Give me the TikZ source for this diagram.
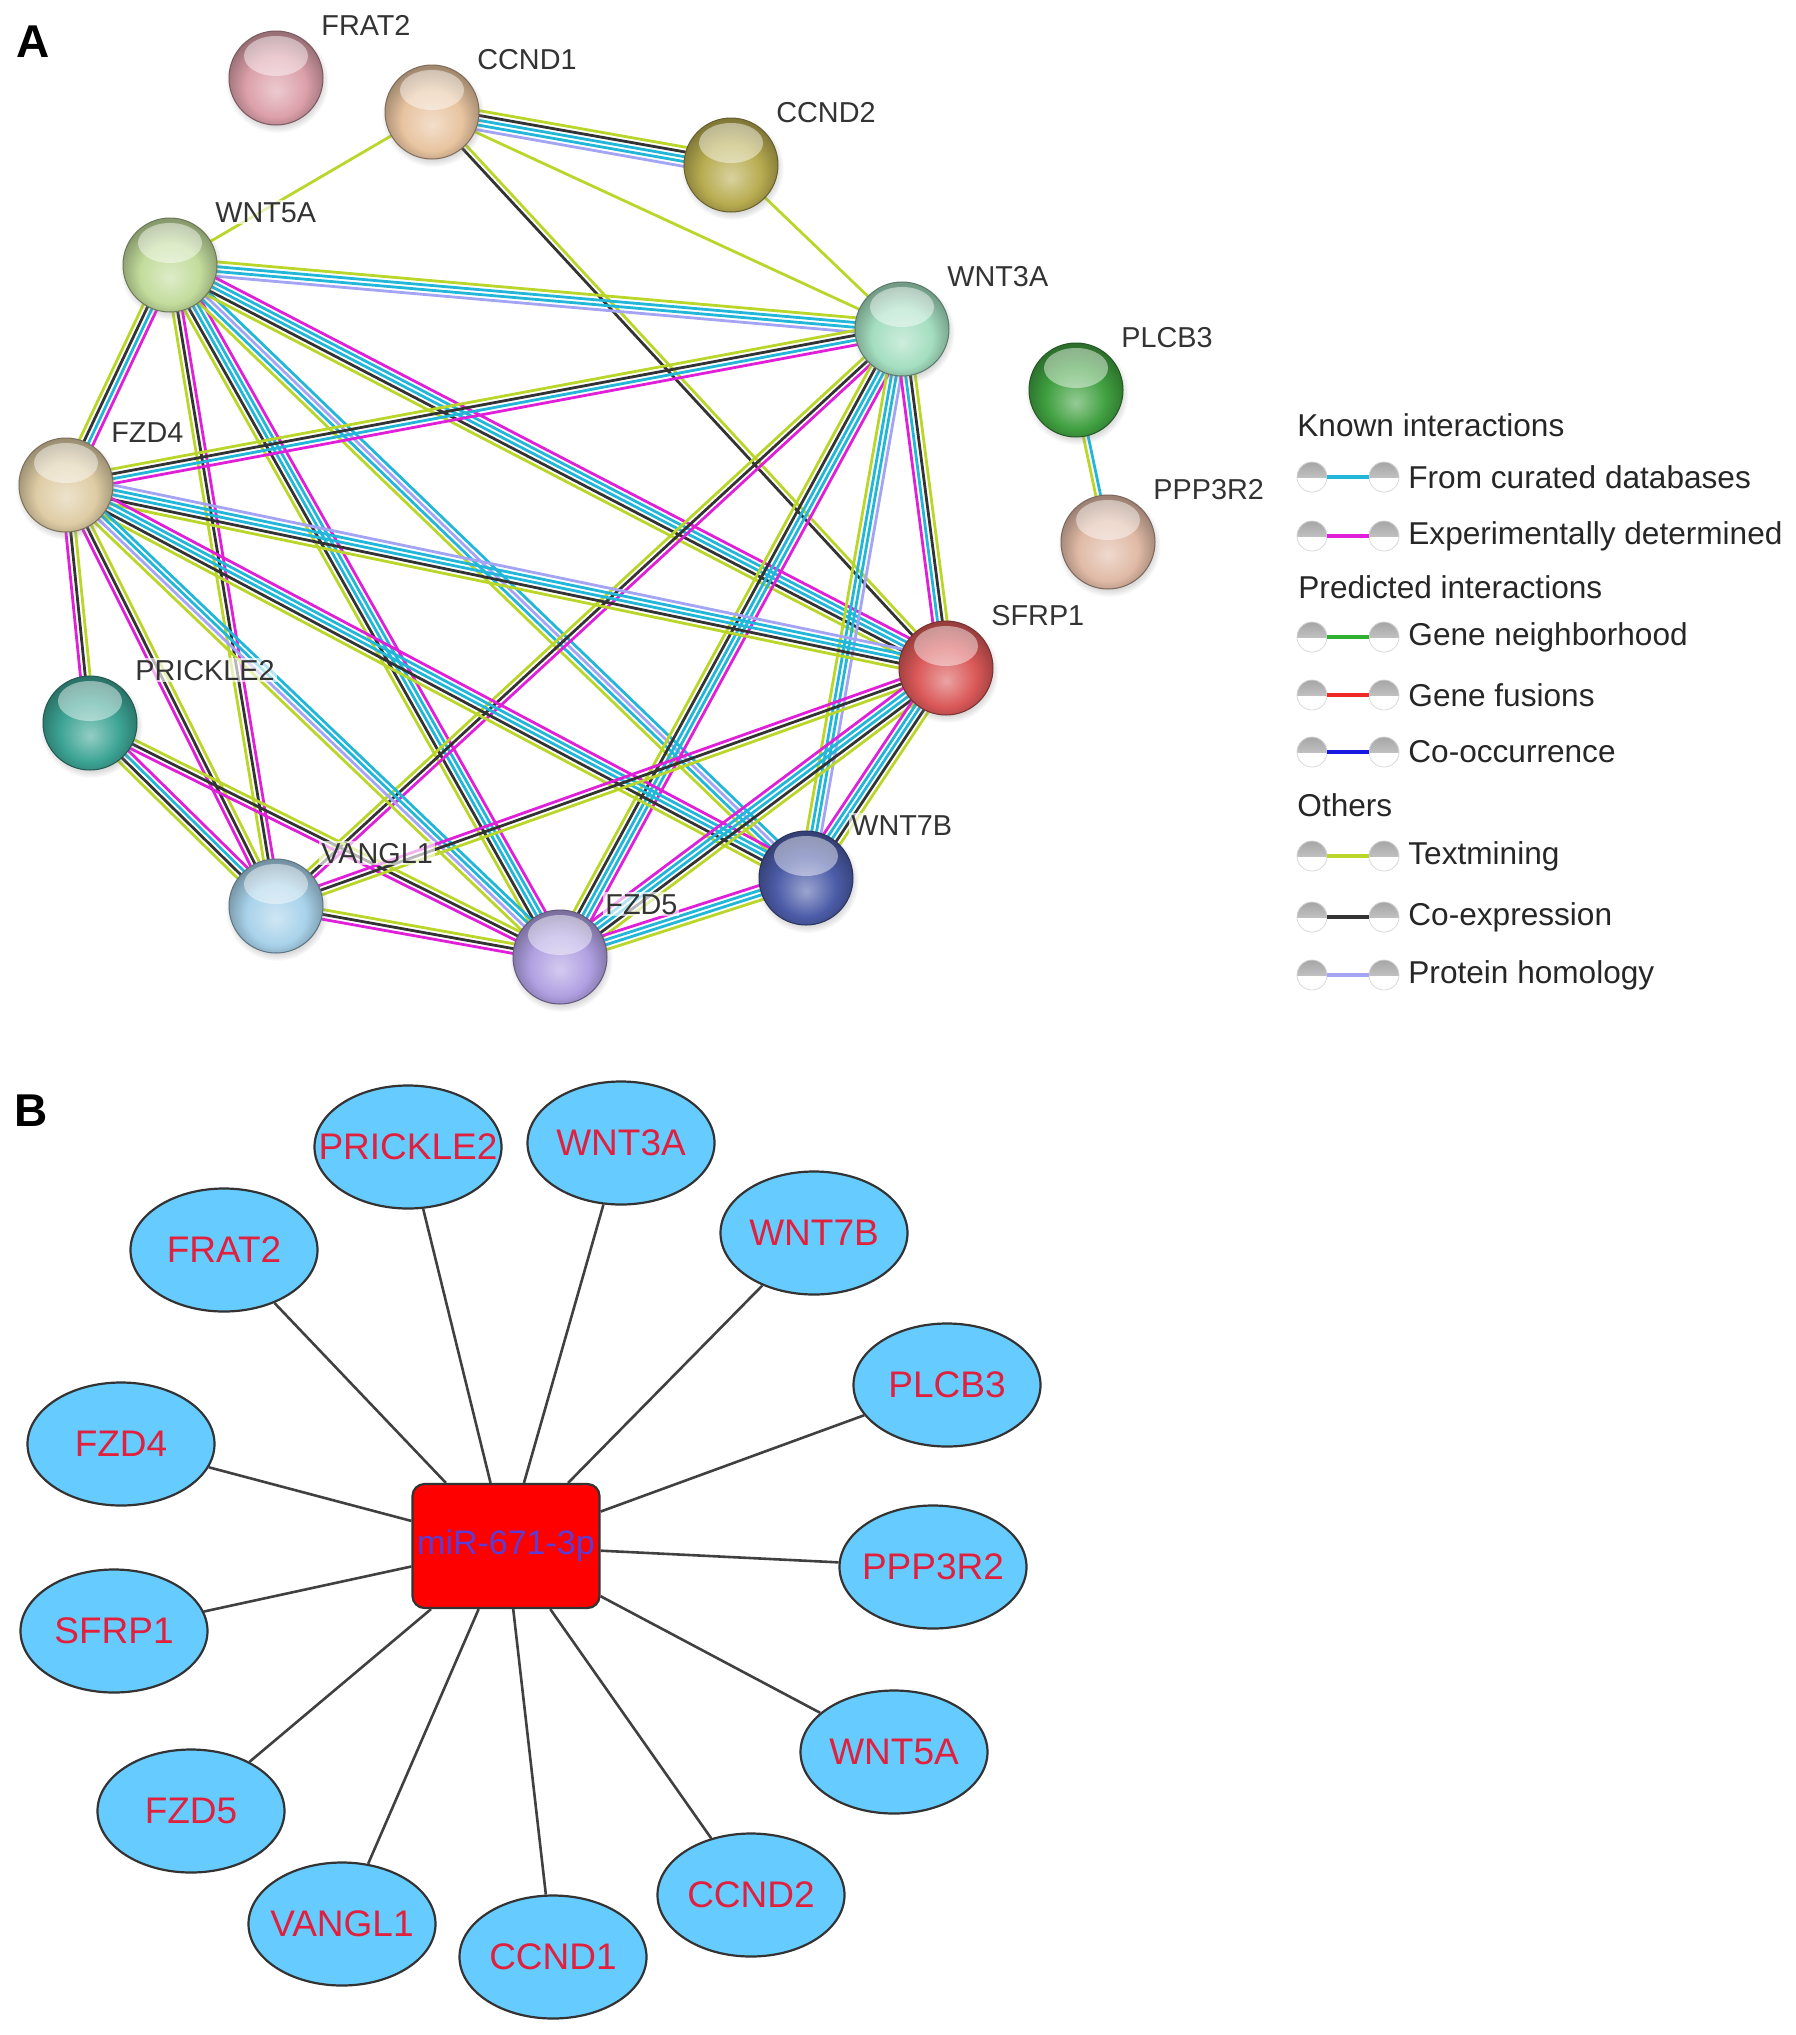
\documentclass[tikz,border=0pt]{standalone}
\usepackage{fontspec}
\setmainfont{Liberation Sans}
\usetikzlibrary{calc,shapes.geometric,shadows}
\pgfdeclarelayer{background}
\pgfsetlayers{background,main}

% evidence colours
\definecolor{curcol}{HTML}{22B7D8}
\definecolor{expcol}{HTML}{E020D8}
\definecolor{neighcol}{HTML}{30B030}
\definecolor{fuscol}{HTML}{F02828}
\definecolor{coocol}{HTML}{1818E0}
\definecolor{txtcol}{HTML}{BAD62A}
\definecolor{coexcol}{HTML}{333333}
\definecolor{homcol}{HTML}{A4A4F4}
% protein colours
\definecolor{frat2c}{HTML}{DCA0AA}
\definecolor{ccnd1c}{HTML}{E8C4A0}
\definecolor{ccnd2c}{HTML}{B8AC50}
\definecolor{wnt5ac}{HTML}{C2DC9C}
\definecolor{wnt3ac}{HTML}{A4DEC0}
\definecolor{plcb3c}{HTML}{40A040}
\definecolor{ppp3r2c}{HTML}{E0BAA6}
\definecolor{fzd4c}{HTML}{DECCA4}
\definecolor{sfrp1c}{HTML}{DA5858}
\definecolor{prickle2c}{HTML}{3CA494}
\definecolor{vangl1c}{HTML}{A8D2EA}
\definecolor{fzd5c}{HTML}{B0A0E2}
\definecolor{wnt7bc}{HTML}{4C5CA8}
% network colours
\definecolor{tblue}{HTML}{66CCFF}
\definecolor{tred}{HTML}{E0203C}
\definecolor{mirblue}{HTML}{5A3CD6}

% glossy protein ball
\colorlet{sbA}{white}\colorlet{sbB}{gray}\colorlet{sbC}{black}
\pgfdeclareradialshading[sbA,sbB,sbC]{strball}{\pgfpoint{0bp}{-7bp}}{color(0bp)=(sbA); color(16bp)=(sbB); color(27bp)=(sbC); color(50bp)=(sbC)}

\begin{document}
\begin{tikzpicture}[x=0.5pt, y=-0.5pt,
    prot/.style={circle, minimum size=47pt, inner sep=0pt, draw=#1!55!black, line width=0.5pt,
      /utils/exec={\colorlet{sbA}{#1!55!white}\colorlet{sbB}{#1}\colorlet{sbC}{#1!70!black}},
      shading=strball,
      circular drop shadow={shadow xshift=0.5pt, shadow yshift=-1.5pt, opacity=0.3},
      path picture={\fill[white, opacity=0.45] ([yshift=11pt]path picture bounding box.center) ellipse (16pt and 10pt);}},
    plabel/.style={anchor=base west, inner sep=1pt, fill=white, fill opacity=0.65, text opacity=1,
      text=black!80, font=\fontsize{14.4}{16}\selectfont},
    strand/.style={line width=1.4pt},
    panel/.style={anchor=base west, inner sep=0pt, font=\fontsize{23}{26}\selectfont\bfseries},
    leghead/.style={anchor=west, inner sep=0pt, text=black!85, font=\fontsize{15.8}{18}\selectfont},
    legball/.style={circle, minimum size=15pt, inner sep=0pt, draw=gray!30, line width=0.4pt,
      path picture={\fill[top color=gray!70, bottom color=gray!30] (path picture bounding box.north west) rectangle (path picture bounding box.east);}},
    legline/.style={line width=1.6pt},
    target/.style={ellipse, minimum width=93.5pt, minimum height=61.5pt, inner sep=0pt, fill=tblue, draw=black!80, line width=1.1pt},
    tname/.style={inner sep=0pt, text=tred, font=\fontsize{18.5}{20}\selectfont},
    mirbox/.style={rectangle, rounded corners=6pt, minimum width=93.5pt, minimum height=62pt, inner sep=0pt,
      fill=red, draw=black!80, line width=1.1pt, text=mirblue, font=\fontsize{17}{19}\selectfont},
    spoke/.style={draw=black!75, line width=1.3pt}
  ]
  \useasboundingbox (0,0) rectangle (1795,2035);

  % panel letters
  \node[panel] (pa) at (16,57) {A};
  \node[panel] (pb) at (14,1126) {B};

  % proteins
  \node[prot=frat2c] (frat2) at (276,78) {};
  \node[prot=ccnd1c] (ccnd1) at (432,112) {};
  \node[prot=ccnd2c] (ccnd2) at (731,165) {};
  \node[prot=wnt5ac] (wnt5a) at (170,265) {};
  \node[prot=wnt3ac] (wnt3a) at (902,329) {};
  \node[prot=plcb3c] (plcb3) at (1076,390) {};
  \node[prot=ppp3r2c] (ppp3r2) at (1108,542) {};
  \node[prot=fzd4c] (fzd4) at (66,485) {};
  \node[prot=sfrp1c] (sfrp1) at (946,668) {};
  \node[prot=prickle2c] (prickle2) at (90,723) {};
  \node[prot=vangl1c] (vangl1) at (276,906) {};
  \node[prot=fzd5c] (fzd5) at (560,957) {};
  \node[prot=wnt7bc] (wnt7b) at (806,878) {};

  % protein names
  \foreach \n/\lbl in {frat2/FRAT2, ccnd1/CCND1, ccnd2/CCND2, wnt5a/WNT5A, wnt3a/WNT3A, plcb3/PLCB3,
      ppp3r2/PPP3R2, fzd4/FZD4, sfrp1/SFRP1, prickle2/PRICKLE2, vangl1/VANGL1, fzd5/FZD5, wnt7b/WNT7B}
    \node[plabel] (\n-l) at ($(\n)+(43,-43)$) {\lbl};

  % interactions, one strand per evidence
  \begin{pgfonlayer}{background}
  \foreach \a/\b/\cols in {
      ccnd1/ccnd2/{homcol,curcol,curcol,coexcol,txtcol},
      ccnd1/wnt5a/{txtcol},
      ccnd1/wnt3a/{txtcol},
      ccnd1/sfrp1/{coexcol,txtcol},
      ccnd2/wnt3a/{txtcol},
      wnt5a/wnt3a/{homcol,curcol,curcol,txtcol},
      wnt5a/fzd4/{txtcol,coexcol,curcol,expcol},
      wnt5a/vangl1/{txtcol,coexcol,expcol},
      wnt5a/fzd5/{txtcol,coexcol,curcol,curcol,expcol},
      wnt5a/wnt7b/{txtcol,curcol,homcol,curcol},
      wnt5a/sfrp1/{txtcol,coexcol,curcol,curcol,expcol},
      wnt3a/fzd4/{txtcol,coexcol,curcol,expcol},
      wnt3a/vangl1/{txtcol,coexcol,expcol},
      wnt3a/fzd5/{txtcol,coexcol,curcol,curcol,expcol},
      wnt3a/wnt7b/{txtcol,curcol,curcol,homcol},
      wnt3a/sfrp1/{expcol,curcol,coexcol,txtcol},
      fzd4/sfrp1/{txtcol,coexcol,curcol,curcol,homcol},
      fzd4/wnt7b/{txtcol,coexcol,curcol,curcol,expcol},
      fzd4/fzd5/{txtcol,homcol,curcol,curcol},
      fzd4/vangl1/{expcol,coexcol,txtcol},
      fzd4/prickle2/{expcol,coexcol,txtcol},
      prickle2/vangl1/{txtcol,coexcol,curcol,expcol},
      prickle2/fzd5/{expcol,coexcol,txtcol},
      vangl1/fzd5/{expcol,coexcol,txtcol},
      vangl1/sfrp1/{txtcol,coexcol,expcol},
      fzd5/sfrp1/{txtcol,coexcol,curcol,curcol,expcol},
      fzd5/wnt7b/{txtcol,curcol,curcol,expcol},
      wnt7b/sfrp1/{txtcol,coexcol,curcol,curcol,expcol},
      plcb3/ppp3r2/{txtcol,curcol}} {
    \foreach \c [count=\n] in \cols {\xdef\nstr{\n}}
    \foreach \c [count=\i] in \cols {
      \pgfmathsetmacro\off{(\i-(\nstr+1)/2)*2.4}
      \draw[strand, draw=\c] ($(\a.center)!\off pt!90:(\b.center)$) -- ($(\b.center)!\off pt!-90:(\a.center)$);
    }
  }
  \end{pgfonlayer}

  % legend
  \node[leghead] (known) at (1297,425) {Known interactions};
  \node[leghead] (pred) at (1298,587) {Predicted interactions};
  \node[leghead] (others) at (1297,805) {Others};
  \foreach \y/\c/\lbl [count=\i] in {477/curcol/From curated databases, 536/expcol/Experimentally determined,
      637/neighcol/Gene neighborhood, 695/fuscol/Gene fusions, 752/coocol/Co-occurrence,
      856/txtcol/Textmining, 917/coexcol/Co-expression, 975/homcol/Protein homology} {
    \node[legball] (lg\i-a) at (1312,\y) {};
    \node[legball] (lg\i-b) at (1384,\y) {};
    \draw[legline, draw=\c] (lg\i-a) -- (lg\i-b);
    \node[leghead] (lg\i-t) at (1408,\y) {\lbl};
  }

  % miRNA target network
  \node[mirbox] (mir) at (506,1546) {miR-671-3p};
  \foreach \n/\x/\y/\lbl in {prickle2/408/1147/PRICKLE2, wnt3a/621/1143/WNT3A, frat2/224/1250/FRAT2,
      wnt7b/814/1233/WNT7B, plcb3/947/1385/PLCB3, fzd4/121/1444/FZD4, ppp3r2/933/1567/PPP3R2,
      sfrp1/114/1631/SFRP1, wnt5a/894/1752/WNT5A, fzd5/191/1811/FZD5, ccnd2/751/1895/CCND2,
      vangl1/342/1924/VANGL1, ccnd1/553/1957/CCND1}
    \node[target, label={[tname]center:\lbl}] (b\n) at (\x,\y) {};
  \foreach \n in {prickle2, wnt3a, frat2, wnt7b, plcb3, fzd4, ppp3r2, sfrp1, wnt5a, fzd5, ccnd2, vangl1, ccnd1}
    \draw[spoke] (mir) -- (b\n);

\end{tikzpicture}
\end{document}
